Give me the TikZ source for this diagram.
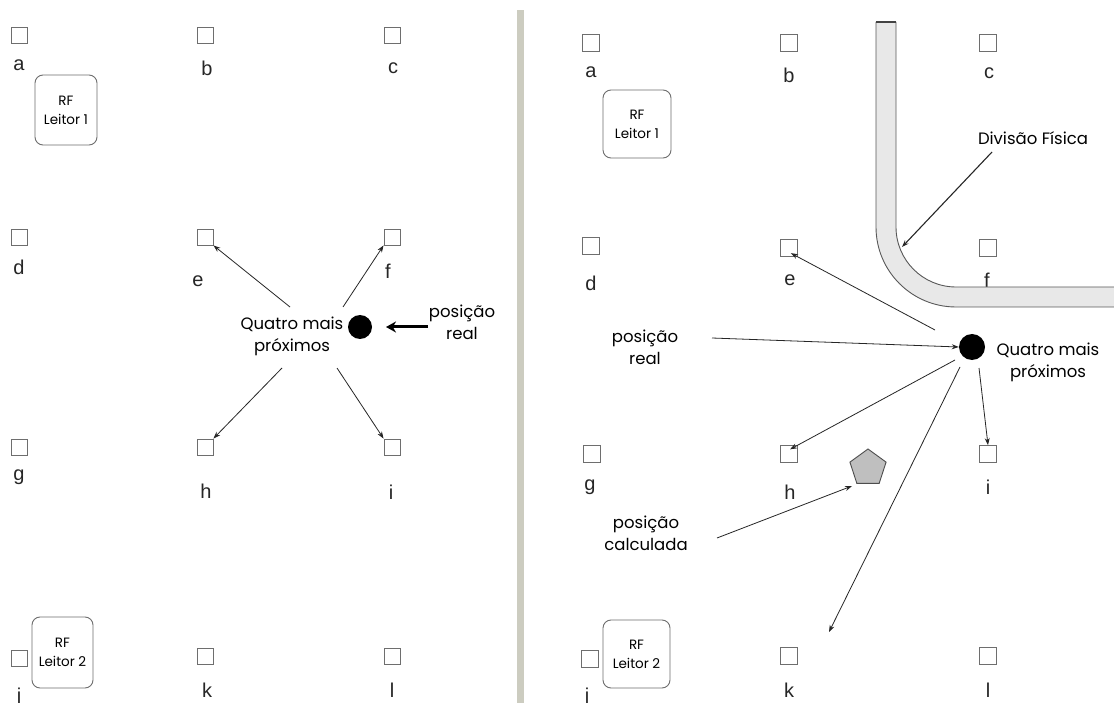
\documentclass[tikz,border=0pt]{standalone}
\usepackage{fontspec}
\setmainfont{Liberation Sans}
\newfontfamily\geo{Poppins}
\usetikzlibrary{arrows.meta,shapes.geometric}
\definecolor{sepbar}{RGB}{204,204,192}
\definecolor{wallfill}{RGB}{232,232,232}
\definecolor{edgegray}{RGB}{110,110,110}
\tikzset{
  spot/.style={draw=edgegray,line width=0.9pt,minimum size=#1,inner sep=0pt},
  spot/.default=16pt,
  letter/.style={font=\fontsize{20}{20}\selectfont,text=black!85,inner sep=0pt},
  reader/.style={draw=edgegray,line width=0.9pt,rounded corners=8pt,inner sep=0pt,
    align=center,font=\geo\fontsize{13.5}{19}\selectfont},
  note/.style={align=center,font=\geo\fontsize{16.5}{22}\selectfont,inner sep=0pt},
  ptr/.style={-{Stealth[length=7pt,width=5pt]},line width=0.8pt,black!85},
}
\begin{document}
\begin{tikzpicture}[x=1pt,y=-1pt]
\useasboundingbox (0,0) rectangle (1114,703);
\fill[white] (0,0) rectangle (1114,703);

% separator between the two panels
\fill[sepbar] (517,10) rectangle (524,703);

% ---------------- left panel ----------------
\foreach \n/\x/\y in {a/19/35,b/205/35,c/392/35,d/19/237,e/205/237,f/392/237,
                       g/19/447,h/205/447,i/392/447,j/19/658,k/205/656,l/392/656}
  \node[spot] (L\n) at (\x,\y) {};
\foreach \n/\x/\y in {a/19/65,b/207/68,c/393/68,d/19/267,e/198/281,f/388/271,
                       g/19/477,h/206/491,i/391/492,j/19/697,k/207/690,l/392/690}
  \node[letter] (Lt\n) at (\x,\y) {\n};

\node[reader,minimum width=62pt,minimum height=70pt] (Lr1) at (66,110) {RF\\Leitor 1};
\node[reader,minimum width=61pt,minimum height=71pt] (Lr2) at (62.5,652.5) {RF\\Leitor 2};

\fill[black] (360,327) circle[radius=12] coordinate (Ldot);
\node[note] (Lnear) at (292,336) {Quatro mais\\próximos};
\node[note] (Lreal) at (462,322) {posição\\real};

\coordinate (Lse) at (290,307);
\coordinate (Lsf) at (343,307);
\coordinate (Lsh) at (282,368);
\coordinate (Lsi) at (337,368);
\draw[ptr] (Lse) -- (Le.south east);
\draw[ptr] (Lsf) -- (Lf.south west);
\draw[ptr] (Lsh) -- (Lh.north east);
\draw[ptr] (Lsi) -- (Li.north west);
\coordinate (Lrs) at (428,327);
\coordinate (Lre) at (386,327);
\draw[-{Stealth[length=10pt,width=11pt]},line width=3pt] (Lrs) -- (Lre);

% ---------------- right panel ----------------
\foreach \n/\x/\y in {a/591/72,b/789/75,c/989/73,d/591/283,e/790/280,f/987/280,
                       g/590/487,h/790/492,i/988/487,j/587/697,k/789/690,l/988/690}
  \node[letter] (Rt\n) at (\x,\y) {\n};

% physical partition (L-shaped wall)
\fill[wallfill] (876,22) -- (876,227) .. controls (876,271.2) and (911.8,307) .. (956,307)
  -- (1114,307) -- (1114,287) -- (956,287) .. controls (922.9,287) and (896,260.1) .. (896,227)
  -- (896,22) -- cycle;
\draw[edgegray!80!black,line width=0.9pt] (876,22) -- (876,227)
  .. controls (876,271.2) and (911.8,307) .. (956,307) -- (1114,307);
\draw[edgegray!80!black,line width=0.9pt] (896,22) -- (896,227)
  .. controls (896,260.1) and (922.9,287) .. (956,287) -- (1114,287);
\draw[edgegray!60!black,line width=1.2pt] (876,22) -- (896,22);

\foreach \n/\x/\y in {a/591/43,b/789/43,c/988/43,d/591/246,e/789/248,f/988/248,
                       g/592/454,h/789/454,i/988/454,j/590/659,k/789/656,l/988/656}
  \node[spot=17pt] (R\n) at (\x,\y) {};

\node[reader,minimum width=68pt,minimum height=68pt] (Rr1) at (637,124) {RF\\Leitor 1};
\node[reader,minimum width=67pt,minimum height=68pt] (Rr2) at (636.5,654) {RF\\Leitor 2};

\node[circle,fill=black,minimum size=26pt,inner sep=0pt] (Rdot) at (972,347) {};
\node[note] (Rnear) at (1048,362) {Quatro mais\\próximos};
\node[note] (Rreal) at (645,347) {posição\\real};
\node[note] (Rcalc) at (646,533) {posição\\calculada};
\node[note] (Rwall) at (1033,138) {Divisão Física};
\node[regular polygon,regular polygon sides=5,minimum size=38pt,inner sep=0pt,
      fill=gray!50,draw=edgegray!70!black,line width=0.9pt] (Rpent) at (868,468) {};

\coordinate (Rse) at (935,330);
\coordinate (Rsh) at (955,360);
\coordinate (Rsk) at (960,367);
\coordinate (Rsi) at (979,368);
\coordinate (Rk) at (829,632);
\coordinate (Rrs) at (712,338);
\coordinate (Rcs) at (717,538);
\coordinate (Rws) at (992,152);
\coordinate (Rwe) at (902,247);
\coordinate (Rpe) at (852,486);
\draw[ptr,shorten >=-8pt] (Rse) -- (Re.south east);
\draw[ptr] (Rrs) -- (Rdot.west);
\draw[ptr,shorten >=-9pt] (Rsh) -- (Rh.north east);
\draw[ptr] (Rsk) -- (Rk);
\draw[ptr] (Rsi) -- (Ri.north);
\draw[ptr] (Rcs) -- (Rpe);
\draw[ptr,line width=1.1pt] (Rws) -- (Rwe);
\end{tikzpicture}
\end{document}
